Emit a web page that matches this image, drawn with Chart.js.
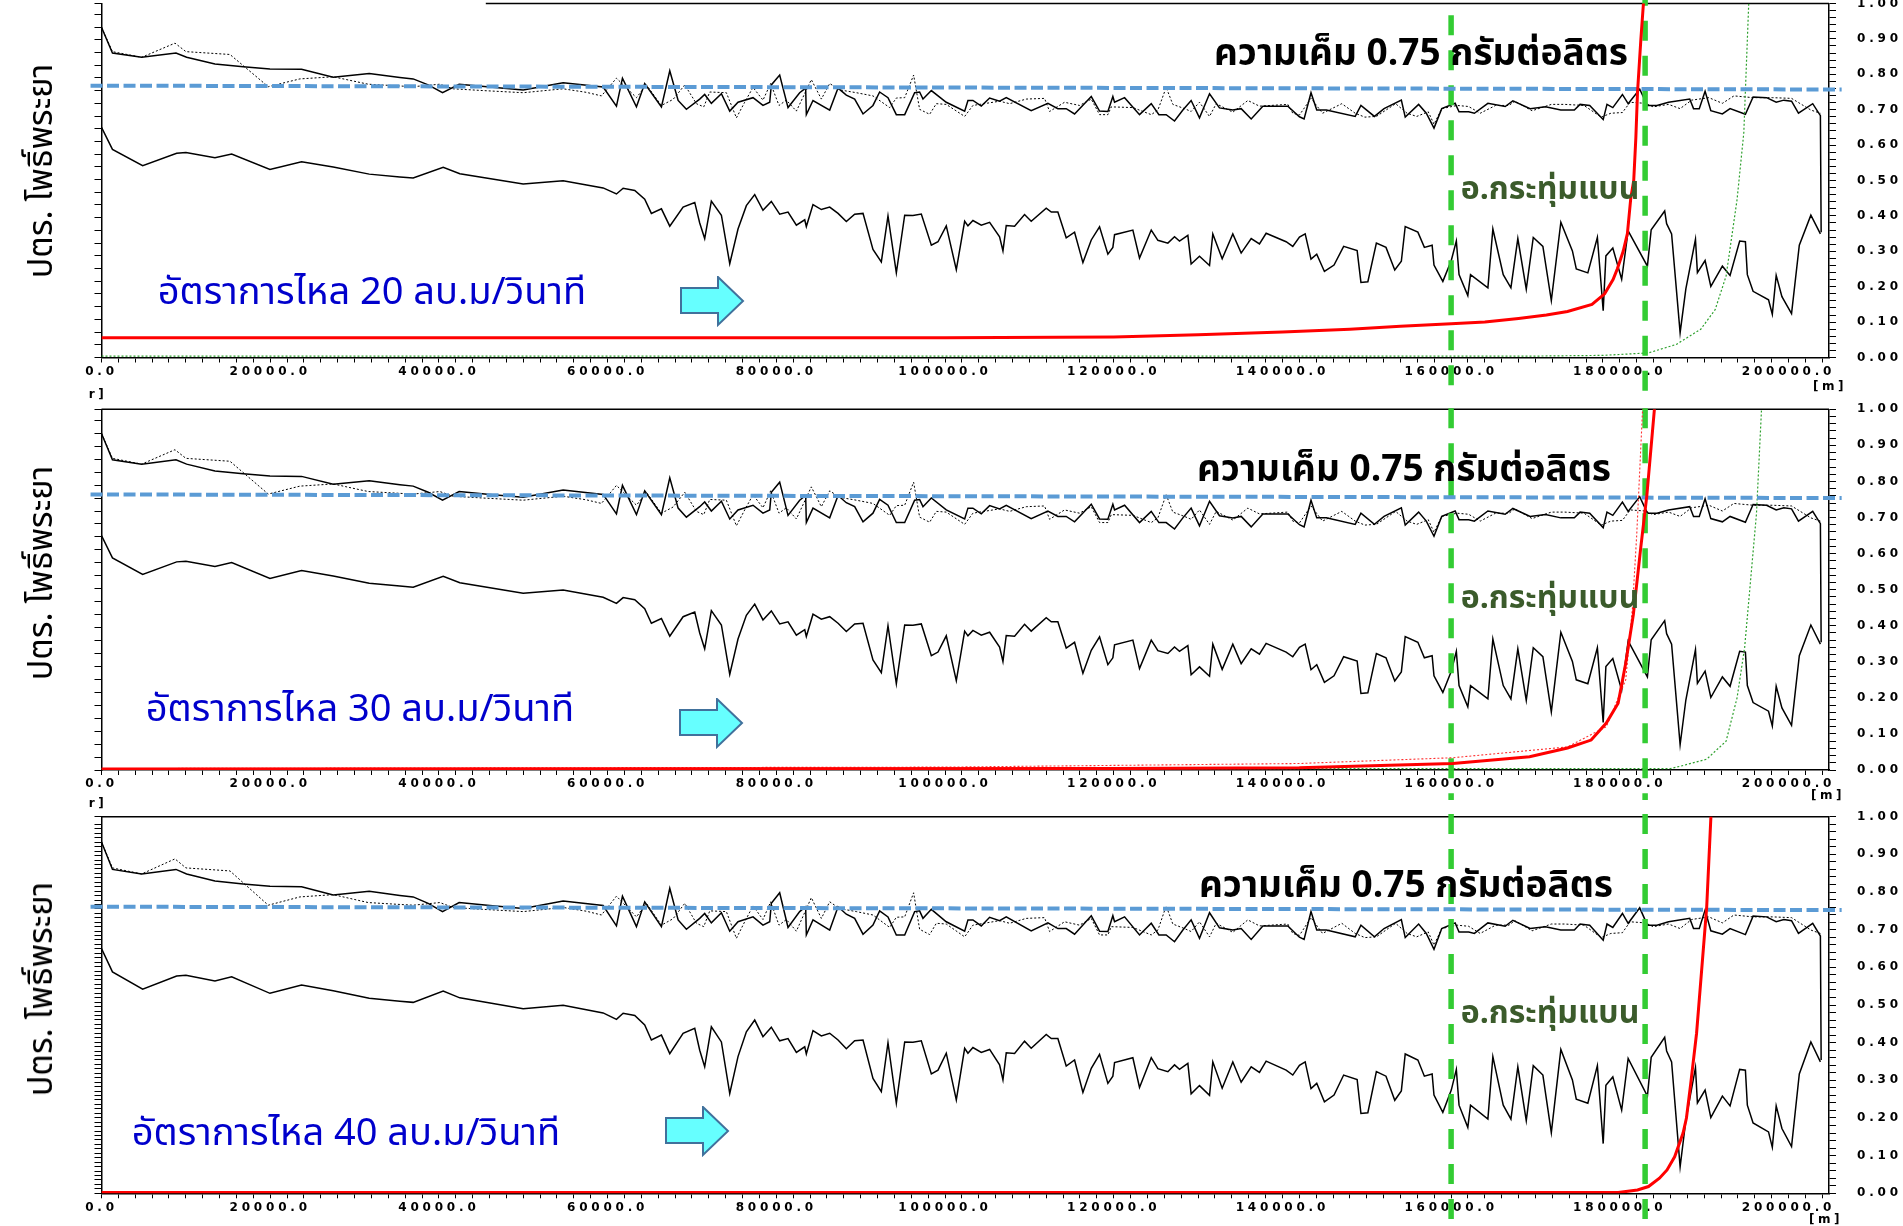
<!DOCTYPE html>
<html>
<head>
<meta charset="utf-8">
<script src="https://cdn.jsdelivr.net/npm/chart.js@4.4.1/dist/chart.umd.min.js"></script>
<style>
  body { margin: 0; width: 1903px; height: 1226px; background: #fff; position: relative; overflow: hidden; }
  canvas { position: absolute; left: 0; }
  .t { position: absolute; white-space: nowrap; line-height: 1; transform: translate(-50%, -50%); }
  .salt { font-family: Tahoma, "Noto Sans Thai", "Noto Sans", sans-serif; font-weight: bold; font-size: 37px; color: #000; }
  .place { font-family: Tahoma, "Noto Sans Thai", "Noto Sans", sans-serif; font-weight: bold; font-size: 32px; color: #3b5b2b; }
  .flow { font-family: Tahoma, "Noto Sans Thai", "Noto Sans", sans-serif; font-size: 38px; color: #0000cc; }
  .ytitle { font-family: Tahoma, "Noto Sans Thai", "Noto Sans", sans-serif; font-size: 34px; color: #000; transform: translate(-50%, -50%) rotate(-90deg); }
  .unit { font: bold 12px "DejaVu Sans", sans-serif; letter-spacing: 3.5px; color: #000; }
  svg.arrow { position: absolute; }
</style>
</head>
<body>
<canvas id="c1" width="1903" height="400" style="top:0"></canvas>
<canvas id="c2" width="1903" height="400" style="top:400px"></canvas>
<canvas id="c3" width="1903" height="426" style="top:800px"></canvas>

<div class="t ytitle" style="left:42px;top:171px">ปตร. โพธิ์พระยา</div>
<div class="t ytitle" style="left:42px;top:573px">ปตร. โพธิ์พระยา</div>
<div class="t ytitle" style="left:42px;top:989px">ปตร. โพธิ์พระยา</div>

<div class="t salt" style="left:1421px;top:54px">ความเค็ม 0.75 กรัมต่อลิตร</div>
<div class="t salt" style="left:1404px;top:470px">ความเค็ม 0.75 กรัมต่อลิตร</div>
<div class="t salt" style="left:1406px;top:886px">ความเค็ม 0.75 กรัมต่อลิตร</div>

<div class="t place" style="left:1550px;top:189px">อ.กระทุ่มแบน</div>
<div class="t place" style="left:1550px;top:598px">อ.กระทุ่มแบน</div>
<div class="t place" style="left:1550px;top:1013px">อ.กระทุ่มแบน</div>

<div class="t flow" style="left:372px;top:293px">อัตราการไหล 20 ลบ.ม/วินาที</div>
<div class="t flow" style="left:360px;top:710px">อัตราการไหล 30 ลบ.ม/วินาที</div>
<div class="t flow" style="left:346px;top:1134px">อัตราการไหล 40 ลบ.ม/วินาที</div>

<div class="t unit" style="left:1830px;top:386px">[m]</div>
<div class="t unit" style="left:1828px;top:795px">[m]</div>
<div class="t unit" style="left:1826px;top:1219px">[m]</div>
<div class="t unit" style="left:98px;top:394px">r]</div>
<div class="t unit" style="left:98px;top:803px">r]</div>

<svg class="arrow" style="left:680px;top:276px" width="66" height="52"><polygon points="1,12 38,12 38,1 63,25 38,49 38,37 1,37" fill="#66ffff" stroke="#41719c" stroke-width="2"/></svg>
<svg class="arrow" style="left:679px;top:698px" width="66" height="52"><polygon points="1,12 38,12 38,1 63,25 38,49 38,37 1,37" fill="#66ffff" stroke="#41719c" stroke-width="2"/></svg>
<svg class="arrow" style="left:665px;top:1106px" width="66" height="52"><polygon points="1,12 38,12 38,1 63,25 38,49 38,37 1,37" fill="#66ffff" stroke="#41719c" stroke-width="2"/></svg>

<script>
const X_MAX = 204800;
const X_MINOR = 2000;
const X_MAJOR = 20000;
const TOWN_X = 160000;
const GATE_X = 183000;

// upper solid salinity envelope
const upperX = [0, 1300, 4760, 8830, 10090, 13450, 16800, 19970, 23720, 27470, 31740, 35370, 36950, 38730, 40430, 42400, 46040, 49990, 54730, 59470,
  61050, 61760, 63420, 64400, 66380, 67370, 68360, 69340, 70920, 71510, 72300, 73490, 74480, 75460, 77240, 78420, 79220, 79410, 80400, 81390,
  82770, 83480, 83560, 84350, 86330, 87320, 88300, 89290, 90280, 91460, 92250, 93240, 94230, 95220, 96400, 96990, 97390, 98380, 100150, 102330,
  102720, 103310, 104300, 105290, 106470, 107260, 110220, 112200, 113380, 114370, 115360, 117340, 118320, 119310, 119900, 120100, 121290, 123060, 124450, 125360,
  126220, 127210, 128200, 129180, 130170, 131360, 132540, 134120, 135110, 136300, 137680, 140640, 142020, 142570, 143390, 144070, 145210, 148630, 149310, 150910,
  152050, 154100, 154560, 156150, 157060, 157970, 158890, 160480, 160940, 162080, 162760, 164360, 166410, 167320, 169370, 171190, 173010, 174610, 175290, 176430,
  178030, 178480, 179170, 180310, 180990, 182360, 183270, 184410, 185780, 188290, 188740, 189420, 190110, 190790, 192160, 193070, 194890, 195800, 197400, 198540,
  199450, 200360, 201180, 202870, 203780, 203870];
const upperY = [0.933, 0.860, 0.848, 0.860, 0.848, 0.829, 0.821, 0.815, 0.814, 0.792, 0.802, 0.791, 0.787, 0.770, 0.748, 0.772, 0.764, 0.756, 0.776, 0.764,
  0.710, 0.789, 0.708, 0.774, 0.708, 0.810, 0.726, 0.701, 0.730, 0.743, 0.718, 0.745, 0.696, 0.721, 0.734, 0.712, 0.721, 0.770, 0.798, 0.706,
  0.748, 0.761, 0.686, 0.726, 0.699, 0.761, 0.741, 0.730, 0.688, 0.712, 0.750, 0.734, 0.686, 0.686, 0.748, 0.750, 0.730, 0.754, 0.721, 0.696,
  0.726, 0.726, 0.710, 0.733, 0.724, 0.734, 0.697, 0.718, 0.703, 0.703, 0.688, 0.737, 0.696, 0.695, 0.737, 0.721, 0.734, 0.686, 0.717, 0.686,
  0.686, 0.668, 0.699, 0.726, 0.677, 0.745, 0.705, 0.699, 0.703, 0.674, 0.710, 0.710, 0.680, 0.674, 0.748, 0.699, 0.699, 0.681, 0.712, 0.681,
  0.703, 0.727, 0.679, 0.715, 0.690, 0.648, 0.703, 0.718, 0.694, 0.694, 0.690, 0.718, 0.709, 0.725, 0.703, 0.708, 0.699, 0.699, 0.715, 0.712,
  0.672, 0.715, 0.706, 0.743, 0.717, 0.758, 0.712, 0.712, 0.721, 0.730, 0.703, 0.703, 0.752, 0.697, 0.688, 0.703, 0.687, 0.736, 0.734, 0.721,
  0.727, 0.724, 0.690, 0.717, 0.683, 0.354];

// upper dotted envelope
const dottedX = [0, 1300, 4760, 8710, 10010, 15230, 19770, 23520, 27470, 31620, 35370, 36950, 40110, 41690, 45250, 49990, 54730, 57490, 59270, 61050,
  63420, 64600, 66380, 67760, 69150, 70530, 71400, 72110, 74080, 75270, 76250, 77240, 78420, 79330, 80320, 81190, 82380, 84150, 85340, 86330,
  87510, 89490, 91460, 93440, 94230, 95220, 96280, 96990, 98180, 98970, 100150, 102330, 103310, 106470, 107660, 109630, 111800, 112400, 114170, 115950,
  117340, 118320, 119310, 119710, 122270, 124450, 125240, 126220, 127010, 128390, 129180, 130170, 131360, 132150, 134120, 135900, 137280, 140640, 141230, 142020,
  143390, 144760, 147040, 148630, 149770, 151140, 153420, 154780, 155920, 157290, 157970, 158890, 160710, 162080, 163450, 165270, 166860, 167550, 169600, 171880,
  173470, 175750, 177800, 178940, 180310, 181220, 183040, 183950, 185780, 187150, 188510, 190560, 192160, 193530, 195800, 198080, 200360, 202650, 203780];
const dottedY = [0.933, 0.864, 0.848, 0.888, 0.864, 0.856, 0.765, 0.787, 0.793, 0.772, 0.767, 0.765, 0.772, 0.759, 0.754, 0.748, 0.759, 0.749, 0.739, 0.789,
  0.734, 0.770, 0.712, 0.729, 0.770, 0.717, 0.708, 0.750, 0.748, 0.677, 0.721, 0.763, 0.727, 0.774, 0.712, 0.727, 0.696, 0.785, 0.730, 0.774,
  0.756, 0.748, 0.739, 0.706, 0.733, 0.734, 0.798, 0.701, 0.687, 0.717, 0.715, 0.681, 0.712, 0.724, 0.717, 0.730, 0.732, 0.695, 0.721, 0.712,
  0.730, 0.686, 0.686, 0.708, 0.706, 0.686, 0.699, 0.763, 0.715, 0.703, 0.695, 0.721, 0.681, 0.717, 0.693, 0.726, 0.710, 0.715, 0.690, 0.685,
  0.732, 0.690, 0.717, 0.690, 0.679, 0.681, 0.717, 0.690, 0.681, 0.694, 0.659, 0.703, 0.712, 0.709, 0.690, 0.712, 0.712, 0.724, 0.697, 0.715,
  0.715, 0.712, 0.679, 0.690, 0.692, 0.721, 0.718, 0.708, 0.715, 0.703, 0.727, 0.734, 0.718, 0.739, 0.734, 0.734, 0.732, 0.699, 0.690];

// lower solid envelope
const lowerX = [0, 1300, 4880, 8910, 10010, 13450, 15430, 19970, 23720, 27470, 31740, 35370, 36950, 40510, 42480, 49990, 54730, 59470, 61050, 61840,
  63220, 64400, 65190, 66380, 67370, 68950, 70330, 70920, 71510, 72300, 73490, 74480, 75460, 76450, 77440, 78420, 79410, 80400, 81390, 82380,
  83370, 83560, 84350, 85340, 86330, 87320, 88300, 89290, 90280, 91460, 92450, 93240, 94230, 95220, 96200, 97190, 98380, 99170, 100150, 101340,
  102330, 102720, 103310, 104300, 105290, 106470, 106870, 107260, 108250, 109430, 110220, 112000, 112600, 113380, 114370, 115360, 116350, 117340, 118320, 119310,
  119900, 120100, 122270, 123060, 124450, 125240, 126420, 127210, 127800, 128790, 129180, 130170, 131360, 131750, 132860, 134120, 135110, 136300, 137280, 138070,
  140440, 141230, 142020, 142700, 143390, 144070, 144980, 146120, 147260, 148860, 149310, 150130, 151140, 152280, 153320, 154100, 154560, 156060, 156830, 157750,
  157970, 159020, 160020, 160620, 160940, 161980, 162300, 164360, 164950, 166180, 167090, 167910, 168910, 169740, 170880, 171880, 173010, 174380, 174840, 176210,
  177340, 178030, 178350, 179170, 180220, 180990, 183270, 183720, 185320, 185550, 186140, 187150, 187830, 188970, 189200, 190110, 190790, 192160, 193070, 194210,
  194890, 195120, 195800, 197630, 198080, 198540, 199220, 200360, 201280, 202650, 203780];
const lowerY = [0.650, 0.588, 0.542, 0.577, 0.579, 0.564, 0.575, 0.531, 0.553, 0.538, 0.518, 0.510, 0.507, 0.537, 0.519, 0.490, 0.499, 0.479, 0.462, 0.478,
  0.472, 0.447, 0.407, 0.420, 0.371, 0.425, 0.438, 0.380, 0.336, 0.442, 0.402, 0.265, 0.363, 0.429, 0.460, 0.416, 0.441, 0.405, 0.411, 0.374,
  0.389, 0.370, 0.432, 0.418, 0.425, 0.407, 0.384, 0.405, 0.407, 0.305, 0.270, 0.400, 0.239, 0.402, 0.401, 0.405, 0.317, 0.327, 0.372, 0.248,
  0.385, 0.372, 0.387, 0.374, 0.382, 0.341, 0.301, 0.373, 0.371, 0.404, 0.385, 0.422, 0.411, 0.411, 0.338, 0.354, 0.268, 0.332, 0.369, 0.292,
  0.311, 0.347, 0.360, 0.281, 0.360, 0.331, 0.323, 0.341, 0.329, 0.345, 0.264, 0.286, 0.260, 0.349, 0.279, 0.349, 0.295, 0.336, 0.321, 0.351,
  0.327, 0.314, 0.340, 0.349, 0.278, 0.292, 0.243, 0.261, 0.314, 0.302, 0.212, 0.214, 0.323, 0.311, 0.247, 0.272, 0.370, 0.354, 0.311, 0.317,
  0.261, 0.215, 0.274, 0.329, 0.234, 0.175, 0.234, 0.197, 0.363, 0.234, 0.197, 0.336, 0.193, 0.339, 0.314, 0.161, 0.382, 0.301, 0.250, 0.239,
  0.339, 0.132, 0.287, 0.309, 0.221, 0.358, 0.258, 0.361, 0.414, 0.378, 0.349, 0.070, 0.194, 0.334, 0.240, 0.274, 0.201, 0.258, 0.232, 0.329,
  0.327, 0.234, 0.187, 0.163, 0.122, 0.232, 0.172, 0.124, 0.317, 0.402, 0.349];

// red (solid) front per flow rate
const red20X = [0, 100000, 120000, 130000, 140000, 148000, 154000, 160000, 164000, 168000, 171300, 173800, 176700, 178200, 179200, 179700, 180400, 180900, 181300, 181650, 181900, 182100, 182500, 182800, 183100];
const red20Y = [0.056, 0.056, 0.058, 0.064, 0.072, 0.080, 0.088, 0.095, 0.100, 0.110, 0.120, 0.130, 0.150, 0.180, 0.220, 0.250, 0.300, 0.350, 0.450, 0.500, 0.620, 0.750, 0.900, 1.000, 1.100];
const red30X = [0, 120000, 142000, 160200, 169300, 173800, 176600, 178400, 179800, 180700, 181600, 182500, 183200, 184100, 184300];
const red30Y = [0.003, 0.004, 0.006, 0.018, 0.037, 0.061, 0.083, 0.130, 0.185, 0.296, 0.430, 0.620, 0.760, 1.000, 1.050];
const red40X = [0, 179800, 182100, 183400, 184700, 185600, 186500, 187500, 187900, 188400, 189100, 189800, 190300, 190800, 191000];
const red40Y = [0.002, 0.002, 0.009, 0.018, 0.040, 0.062, 0.097, 0.160, 0.200, 0.290, 0.425, 0.620, 0.760, 1.000, 1.050];
// red dotted (30 m3/s panel)
const redDot30X = [0, 100000, 142000, 160200, 173800, 178400, 180700, 181500, 182000, 182400, 182700, 182900];
const redDot30Y = [0.004, 0.008, 0.018, 0.034, 0.064, 0.120, 0.250, 0.450, 0.650, 0.850, 1.000, 1.050];
// green dotted
const green20X = [0, 170000, 178000, 183400, 186700, 189600, 191300, 192600, 193900, 194700, 195300];
const green20Y = [0.004, 0.004, 0.006, 0.013, 0.037, 0.080, 0.135, 0.230, 0.446, 0.635, 1.010];
const green30X = [0, 186000, 187100, 190300, 192600, 193900, 194800, 196200, 196800, 197000];
const green30Y = [0.003, 0.004, 0.010, 0.030, 0.080, 0.200, 0.340, 0.710, 1.000, 1.050];

// 0.75 g/l guide (ends slightly outside the plot)
const limitX = [-1300, 206300];
const limit20 = [0.768, 0.757];
const limit30 = [0.764, 0.754];
const limit40 = [0.761, 0.752];

function pts(xs, ys) {
  return xs.map((x, i) => ({ x, y: ys[i] }));
}

function line(data, color, width, dash, extra) {
  return Object.assign({
    data, borderColor: color, borderWidth: width, borderDash: dash || [],
    pointRadius: 0, fill: false, tension: 0,
  }, extra || {});
}

const spacingPlugin = {
  id: "spacing",
  beforeDraw(chart) {
    chart.ctx.letterSpacing = "3.8px";
  },
};

function makePanel(id, cfg) {
  const canvas = document.getElementById(id);
  const H = canvas.height;
  const vLine = (x, top) => line([{ x, y: top }, { x, y: -0.3 }], "#33cc33", 5.5, [20, 15], { clip: false });

  const datasets = [];
  datasets.push(line(pts(cfg.redX, cfg.redY), "#ff0000", 3));
  if (cfg.redDotX) datasets.push(line(pts(cfg.redDotX, cfg.redDotY), "#ff3030", 1.1, [2, 2]));
  datasets.push(line(pts(limitX, cfg.limit), "#5b9bd5", 4, [12, 4.5], { clip: false }));
  datasets.push(vLine(TOWN_X, cfg.townTop));
  datasets.push(vLine(GATE_X, cfg.gateTop));
  if (cfg.greenX) datasets.push(line(pts(cfg.greenX, cfg.greenY), "#2ea02e", 1.2, [2, 2]));
  datasets.push(line(pts(upperX, upperY), "#000", 1.5));
  datasets.push(line(pts(dottedX, dottedY), "#000", 1, [2, 2]));
  datasets.push(line(pts(lowerX, lowerY), "#000", 1.5));
  datasets.push(line([{ x: cfg.frameFrom, y: 1 }, { x: X_MAX, y: 1 }], "#000", 1.5, [], { clip: false }));

  const tickFont = { family: "DejaVu Sans", size: 12, weight: "bold" };

  return new Chart(canvas, {
    type: "line",
    data: { datasets },
    plugins: [spacingPlugin],
    options: {
      responsive: false,
      animation: false,
      events: [],
      layout: { autoPadding: false, padding: { top: cfg.top, left: 0, right: 0, bottom: 0 } },
      plugins: { legend: { display: false }, tooltip: { enabled: false } },
      scales: {
        x: {
          type: "linear",
          min: 0,
          max: X_MAX,
          afterBuildTicks: (s) => {
            const ticks = [];
            for (let v = 0; v <= X_MAX; v += X_MINOR) ticks.push({ value: v });
            s.ticks = ticks;
          },
          afterFit: (s) => {
            s.height = H - cfg.bottom;
            s.paddingLeft = 0;
            s.paddingRight = 0;
          },
          grid: { drawOnChartArea: false, tickLength: 5, color: "#000" },
          border: { display: true, color: "#000", width: 1.5 },
          ticks: {
            autoSkip: false,
            maxRotation: 0,
            minRotation: 0,
            padding: 2,
            color: "#000",
            font: tickFont,
            callback: (v) => (v % X_MAJOR === 0 ? v.toFixed(1) : ""),
          },
        },
        yL: {
          position: "left",
          min: 0,
          max: 1,
          afterFit: (s) => {
            s.width = 101.5;
            s.paddingTop = 0;
            s.paddingBottom = 0;
          },
          grid: { drawOnChartArea: false, tickLength: 7, color: "#000" },
          border: { display: true, color: "#000", width: 1.5 },
          ticks: { display: false, stepSize: cfg.leftStep, autoSkip: false },
        },
        y: {
          position: "right",
          min: 0,
          max: 1,
          afterFit: (s) => {
            s.width = 74;
            s.paddingTop = 0;
            s.paddingBottom = 0;
          },
          grid: { drawOnChartArea: false, tickLength: 7, color: "#000" },
          border: { display: true, color: "#000", width: 1.5 },
          ticks: {
            stepSize: 0.02,
            autoSkip: false,
            padding: 21,
            color: "#000",
            font: tickFont,
            callback: (v) => {
              const t = Math.round(v * 100);
              return t % 10 === 0 ? (t / 100).toFixed(2) : "";
            },
          },
        },
      },
    },
  });
}

makePanel("c1", {
  top: 3.5, bottom: 357.5, leftStep: 0.0359,
  redX: red20X, redY: red20Y, greenX: green20X, greenY: green20Y,
  limit: limit20, townTop: 0.967, gateTop: 1.05, frameFrom: 45560,
});
makePanel("c2", {
  top: 9.3, bottom: 370, leftStep: 0.0359,
  redX: red30X, redY: red30Y, redDotX: redDot30X, redDotY: redDot30Y, greenX: green30X, greenY: green30Y,
  limit: limit30, townTop: 1.1, gateTop: 1.1, frameFrom: 0,
});
makePanel("c3", {
  top: 16.7, bottom: 393.3, leftStep: 0.0118,
  redX: red40X, redY: red40Y,
  limit: limit40, townTop: 1.1, gateTop: 1.1, frameFrom: 0,
});
</script>
</body>
</html>
